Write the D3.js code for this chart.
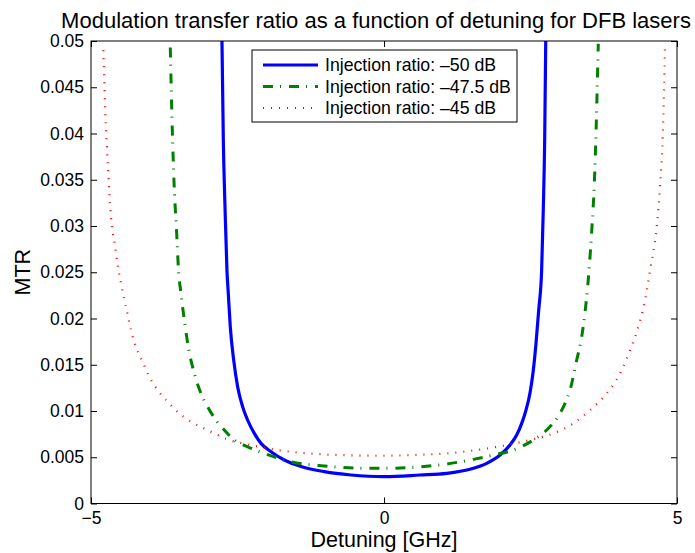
<!DOCTYPE html>
<html>
<head>
<meta charset="utf-8">
<script src="https://cdn.jsdelivr.net/npm/d3@7"></script>
<style>
  body { margin: 0; background: #fff; }
  svg { display: block; font-family: "Liberation Sans", Arial, sans-serif; }
</style>
</head>
<body>
<svg width="695" height="553"></svg>
<script>
// values (detuning in GHz, MTR)
const DET_50 = [-2.765, -2.742, -2.713, -2.68, -2.657, -2.623, -2.565, -2.497, -2.412, -2.326,
  -2.213, -2.099, -1.928, -1.701, -1.416, -1.019, -0.563, 0,
  0.614, 1.07, 1.468, 1.752, 1.98, 2.15, 2.264, 2.35, 2.423, 2.49,
  2.548, 2.594, 2.64, 2.69, 2.719, 2.742, 2.76];
const MTR_50 = [0.05, 0.0393, 0.032, 0.0252, 0.0227, 0.0191, 0.0155, 0.0126, 0.01045, 0.009,
  0.00758, 0.0065, 0.0056, 0.0047, 0.004, 0.00344, 0.00308, 0.0029,
  0.00308, 0.00326, 0.0037, 0.00434, 0.00524, 0.00632, 0.0074, 0.00866, 0.0101, 0.0119,
  0.0144, 0.0173, 0.0209, 0.0252, 0.032, 0.0393, 0.05];

const DET_475 = [-3.647, -3.623, -3.589, -3.532, -3.51, -3.464, -3.407, -3.339, -3.237, -3.123,
  -3.009, -2.867, -2.725, -2.555, -2.326, -2.043, -1.587, -1.019, -0.449, 0,
  0.5, 1.07, 1.524, 1.865, 2.207, 2.548, 2.776, 2.947, 3.089, 3.174,
  3.288, 3.373, 3.447, 3.503, 3.549, 3.589, 3.618, 3.64, 3.657];
const MTR_475 = [0.0493, 0.0428, 0.0357, 0.02846, 0.02557, 0.0227, 0.0198, 0.0169, 0.01406, 0.0119,
  0.01045, 0.009, 0.00794, 0.00686, 0.00613, 0.00542, 0.00451, 0.00405, 0.00383, 0.0038,
  0.00391, 0.00427, 0.00477, 0.00524, 0.00578, 0.00686, 0.00794, 0.0092, 0.01082, 0.01226,
  0.0155, 0.018, 0.02162, 0.02557, 0.0299, 0.0346, 0.04, 0.0454, 0.0497];

const DET_45 = [-4.79, -4.773, -4.756, -4.73, -4.70, -4.676, -4.642, -4.596, -4.54, -4.488,
  -4.43, -4.374, -4.317, -4.232, -4.118, -4.005, -3.862, -3.692, -3.493, -3.265,
  -3.009, -2.64, -2.27, -1.814, -1.302, -0.734, 0,
  0.5, 1.07, 1.582, 2.094, 2.49, 2.889, 3.23, 3.515, 3.8, 4.027,
  4.198, 4.34, 4.454, 4.55, 4.654, 4.71, 4.756, 4.778, 4.795];
const MTR_45 = [0.049, 0.0456, 0.0421, 0.0386, 0.0351, 0.0324, 0.0299, 0.0281, 0.0256, 0.0238,
  0.022, 0.0204, 0.0187, 0.0169, 0.0153, 0.0137, 0.01226, 0.011, 0.00974, 0.00873,
  0.00794, 0.00686, 0.00632, 0.00578, 0.00542, 0.00524, 0.00516,
  0.00524, 0.00542, 0.00578, 0.00632, 0.00686, 0.00758, 0.00866, 0.0101, 0.0119, 0.01406,
  0.01658, 0.0191, 0.022, 0.02557, 0.0299, 0.0342, 0.0396, 0.0447, 0.0497];

const SERIES_NAMES = ["Injection ratio: \u201350 dB", "Injection ratio: \u201347.5 dB", "Injection ratio: \u201345 dB"];
const X_TICKS = [-5, 0, 5];
const Y_TICKS = [0, 0.005, 0.01, 0.015, 0.02, 0.025, 0.03, 0.035, 0.04, 0.045, 0.05];

const margin = {top: 41, right: 18, bottom: 49.5, left: 91};
const W = 695 - margin.left - margin.right;
const H = 553 - margin.top - margin.bottom;

const styles = [
  {color: "#0000ff", width: 3.2, dash: null},
  {color: "#008000", width: 3, dash: "10,7,1,8"},
  {color: "#ff0000", width: 2.2, dash: "1,7"}
];

const series = [[DET_50, MTR_50], [DET_475, MTR_475], [DET_45, MTR_45]].map((s, i) => ({
  name: SERIES_NAMES[i],
  style: styles[i],
  pts: s[0].map((d, j) => [d, s[1][j]])
}));

const x = d3.scaleLinear().domain([-5, 5]).range([0, W]);
const y = d3.scaleLinear().domain([0, 0.05]).range([H, 0]);

const svg = d3.select("svg");
const g = svg.append("g").attr("transform", `translate(${margin.left},${margin.top})`);

g.append("clipPath").attr("id", "clip")
  .append("rect").attr("width", W).attr("height", H);

const line = d3.line()
  .x(d => x(d[0]))
  .y(d => y(d[1]))
  .curve(d3.curveMonotoneX);

g.append("g").attr("clip-path", "url(#clip)")
  .selectAll("path")
  .data(series)
  .enter()
  .append("path")
  .attr("d", d => line(d.pts))
  .attr("fill", "none")
  .attr("stroke", d => d.style.color)
  .attr("stroke-width", d => d.style.width)
  .attr("stroke-dasharray", d => d.style.dash);

// axes, ticks inside like matlab
const fmtY = d3.format("~g");
const fmtX = d => d < 0 ? "\u2212" + Math.abs(d) : String(d);

const axes = [
  g.append("g").attr("transform", `translate(0,${H})`)
    .call(d3.axisBottom(x).tickValues(X_TICKS).tickFormat(fmtX).tickSizeInner(-6).tickSizeOuter(0).tickPadding(8)),
  g.append("g")
    .call(d3.axisTop(x).tickValues(X_TICKS).tickFormat("").tickSizeInner(-6).tickSizeOuter(0)),
  g.append("g")
    .call(d3.axisLeft(y).tickValues(Y_TICKS).tickFormat(fmtY).tickSizeInner(-6).tickSizeOuter(0).tickPadding(7)),
  g.append("g").attr("transform", `translate(${W},0)`)
    .call(d3.axisRight(y).tickValues(Y_TICKS).tickFormat("").tickSizeInner(-6).tickSizeOuter(0))
];
axes.forEach(a => {
  a.select(".domain").remove();
  a.selectAll("line").attr("stroke", "#000");
  a.selectAll("text").attr("fill", "#000").style("font-size", "17.5px").style("font-family", "'Liberation Sans', Arial, sans-serif");
});

g.append("rect")
  .attr("width", W).attr("height", H)
  .attr("fill", "none").attr("stroke", "#000").attr("stroke-width", 1);

// labels
svg.append("text")
  .attr("x", 376).attr("y", 28)
  .attr("text-anchor", "middle")
  .style("font-size", "22px")
  .text("Modulation transfer ratio as a function of detuning for DFB lasers");

svg.append("text")
  .attr("x", margin.left + W / 2).attr("y", 547)
  .attr("text-anchor", "middle")
  .style("font-size", "21.5px")
  .text("Detuning [GHz]");

svg.append("text")
  .attr("transform", `translate(30,${margin.top + H / 2}) rotate(-90)`)
  .attr("text-anchor", "middle")
  .style("font-size", "21.5px")
  .text("MTR");

// legend
const legend = svg.append("g").attr("transform", "translate(252,50)");
legend.append("rect")
  .attr("width", 265).attr("height", 72)
  .attr("fill", "#fff").attr("stroke", "#000").attr("stroke-width", 1);

const rows = legend.selectAll(".row")
  .data(series)
  .enter()
  .append("g")
  .classed("row", true)
  .attr("transform", (d, i) => `translate(0,${15 + i * 21.5})`);

rows.append("line")
  .attr("x1", 11).attr("x2", 66)
  .attr("stroke", d => d.style.color)
  .attr("stroke-width", d => d.style.width)
  .attr("stroke-dasharray", d => d.style.dash);

rows.append("text")
  .attr("x", 73).attr("dy", "0.35em")
  .style("font-size", "17.7px")
  .text(d => d.name);
</script>
</body>
</html>
